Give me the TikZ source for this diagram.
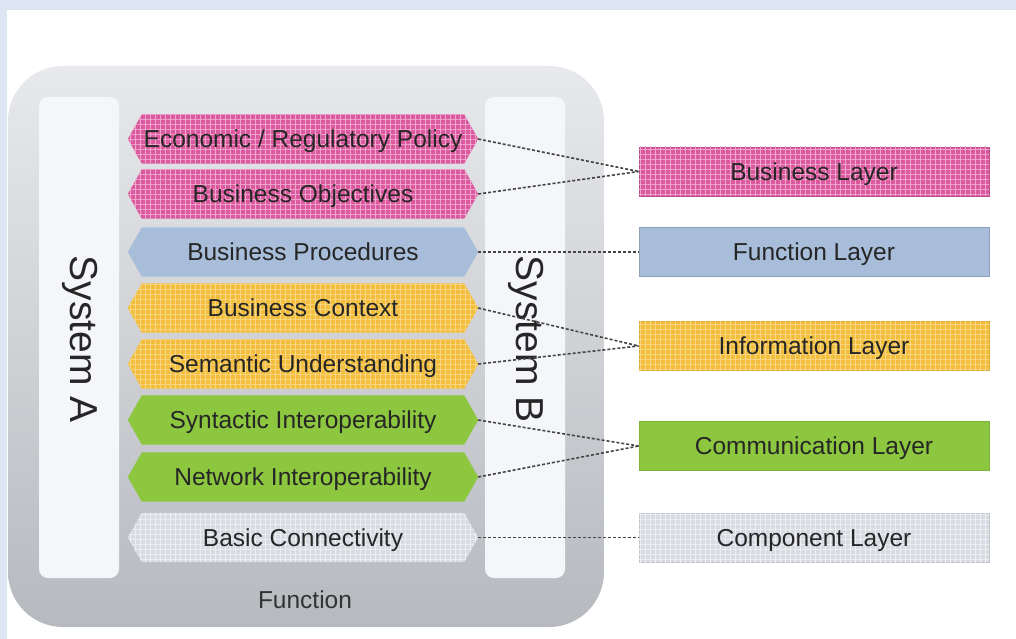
\documentclass[tikz,border=0pt]{standalone}
\usepackage{fontspec}
\setmainfont{Liberation Sans}
\usetikzlibrary{patterns.meta}
\definecolor{bgband}{HTML}{DCE5F1}
\definecolor{boxtop}{HTML}{E8E9EC}
\definecolor{boxbot}{HTML}{B6B9BE}
\definecolor{sysc}{HTML}{F4F6FA}
\definecolor{pinkc}{HTML}{DB5A9F}
\definecolor{pinkl}{HTML}{F0A6CC}
\definecolor{bluec}{HTML}{A7BDD9}
\definecolor{yellc}{HTML}{F3BE3C}
\definecolor{yelll}{HTML}{F8D683}
\definecolor{greenc}{HTML}{8DC63F}
\definecolor{grayc}{HTML}{D8DBE2}
\definecolor{grayl}{HTML}{ECEEF2}
\definecolor{txt}{HTML}{262626}
\definecolor{conncol}{HTML}{454545}
\pgfdeclarelayer{bg}
\pgfdeclarelayer{hex}
\pgfsetlayers{bg,hex,main}
\newcommand\hexfill[2]{\fill[#2] (#1.west) -- ([xshift=14pt]#1.north west) -- ([xshift=-14pt]#1.north east) -- (#1.east) -- ([xshift=-14pt]#1.south east) -- ([xshift=14pt]#1.south west) -- cycle;}
\begin{document}
\begin{tikzpicture}[x=1pt,y=-1pt,
  lbl/.style={text=txt, font=\fontsize{24.5}{27}\selectfont, text height=17.5pt, text depth=0pt},
  hexa/.style={lbl, minimum width=350pt, minimum height=49pt, inner sep=0pt},
  layerbox/.style={lbl, minimum width=350pt, minimum height=49pt, inner sep=0pt, line width=0.7pt},
  chk/.style={postaction={pattern={Hatch[distance=5pt,line width=0.9pt]}, pattern color=#1}},
  fpink/.style={fill=pinkc, chk=pinkl},
  fblue/.style={fill=bluec},
  fyell/.style={fill=yellc, chk=yelll},
  fgreen/.style={fill=greenc},
  fgray/.style={fill=grayc, chk=grayl},
  sysbar/.style={fill=sysc, rounded corners=9pt, minimum width=80pt, minimum height=481pt, inner sep=0pt},
  systext/.style={rotate=-90, text=black!85, font=\fontsize{39}{42}\selectfont},
  conn/.style={draw=conncol, line width=1.6pt, dash pattern=on 3pt off 2pt}
]
\useasboundingbox (0,0) rectangle (1016,639);
\begin{pgfonlayer}{bg}
\fill[bgband] (0,0) rectangle (1016,639);
\fill[white] (7,10) rectangle (1016,639);
\shade[top color=boxtop, bottom color=boxbot, rounded corners=55pt] (8,66) rectangle (604,627);
\node[sysbar] (sysA) at (79,337.5) {};
\node[sysbar] (sysB) at (525,337.5) {};
\end{pgfonlayer}

\node[systext] (tA) at (80,339) {System A};
\node[systext] (tB) at (526,339) {System B};
\node[lbl, text=black!80] (fn) at (305,600) {Function};

% hexagon rows
\node[hexa] (h1) at (303,139) {Economic / Regulatory Policy};
\node[hexa] (h2) at (303,194) {Business Objectives};
\node[hexa] (h3) at (303,252) {Business Procedures};
\node[hexa] (h4) at (303,308) {Business Context};
\node[hexa] (h5) at (303,364) {Semantic Understanding};
\node[hexa] (h6) at (303,420) {Syntactic Interoperability};
\node[hexa] (h7) at (303,477) {Network Interoperability};
\node[hexa] (h8) at (303,537.5) {Basic Connectivity};

\begin{pgfonlayer}{hex}
\hexfill{h1}{fpink}
\hexfill{h2}{fpink}
\hexfill{h3}{fblue}
\hexfill{h4}{fyell}
\hexfill{h5}{fyell}
\hexfill{h6}{fgreen}
\hexfill{h7}{fgreen}
\hexfill{h8}{fgray}
\end{pgfonlayer}

% layer boxes
\node[layerbox, fpink, draw=pinkc!85!black] (r1) at (814,171.5) {Business Layer};
\node[layerbox, fblue, draw=bluec!85!black] (r2) at (814,252) {Function Layer};
\node[layerbox, fyell, draw=yellc!90!black] (r3) at (814,346) {Information Layer};
\node[layerbox, fgreen, draw=greenc!90!black] (r4) at (814,446) {Communication Layer};
\node[layerbox, fgray, draw=grayc!90!black] (r5) at (814,537.5) {Component Layer};

% connectors
\draw[conn] (h1.east) -- (r1.west);
\draw[conn] (h2.east) -- (r1.west);
\draw[conn] (h3.east) -- (r2.west);
\draw[conn] (h4.east) -- (r3.west);
\draw[conn] (h5.east) -- (r3.west);
\draw[conn] (h6.east) -- (r4.west);
\draw[conn] (h7.east) -- (r4.west);
\draw[conn] (h8.east) -- (r5.west);
\end{tikzpicture}
\end{document}
